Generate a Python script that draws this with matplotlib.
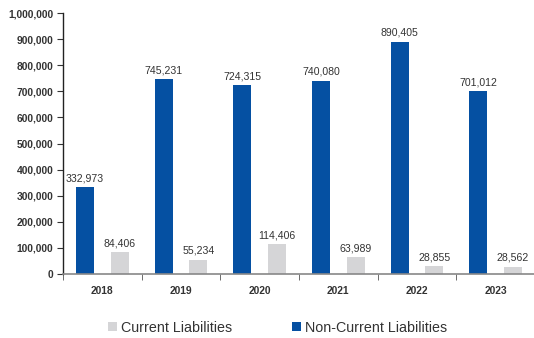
import numpy as np
import matplotlib
matplotlib.use("Agg")
import matplotlib.pyplot as plt
from matplotlib.ticker import FuncFormatter

# liabilities by year
years = ["2018", "2019", "2020", "2021", "2022", "2023"]
current = [84406, 55234, 114406, 63989, 28855, 28562]
non_current = [332973, 745231, 724315, 740080, 890405, 701012]

BLUE = "#0550a2"
GREY = "#d5d5d7"

plt.rcParams['font.family'] = ['Liberation Sans', 'DejaVu Sans']

fig = plt.figure(figsize=(5.34, 3.38), dpi=100)
ax = fig.add_axes([63 / 534, 1 - 274 / 338, 472 / 534, 261 / 338])

x = np.arange(len(years))
w = 0.23
off = 0.22

ax.bar(x - off, non_current, w, color=BLUE, label="Non-Current Liabilities", zorder=2)
ax.bar(x + off, current, w, color=GREY, label="Current Liabilities", zorder=2)

for i in range(len(years)):
    ax.text(x[i] - off, non_current[i] + 15000, f"{non_current[i]:,}",
            ha="center", va="bottom", fontsize=7.6, color="#333333")
    ax.text(x[i] + off, current[i] + 15000, f"{current[i]:,}",
            ha="center", va="bottom", fontsize=7.6, color="#333333")

ax.set_xlim(-0.5, len(years) - 0.5)
ax.set_ylim(0, 1000000)
ax.set_yticks(np.arange(0, 1000001, 100000))
ax.yaxis.set_major_formatter(FuncFormatter(lambda v, p: f"{int(v):,}"))

ax.set_xticks(x)
ax.set_xticklabels(years)
ax.set_xticks(np.arange(-0.5, len(years), 1.0), minor=True)
ax.tick_params(axis="x", which="major", length=0, pad=9)
ax.tick_params(axis="x", which="minor", length=4, color="#555555", direction="out")
ax.tick_params(axis="y", length=4, color="#333333", pad=3)

for lab in ax.get_xticklabels() + ax.get_yticklabels():
    lab.set_fontweight("bold")
    lab.set_fontsize(7.4)
    lab.set_color("#333333")

for s in ["top", "right"]:
    ax.spines[s].set_visible(False)
ax.spines["left"].set_color("#222222")
ax.spines["left"].set_linewidth(1.0)
ax.spines["bottom"].set_color("#888888")
ax.spines["bottom"].set_linewidth(1.2)

handles, labels = ax.get_legend_handles_labels()
fig.legend(handles[::-1], labels[::-1], loc="center", bbox_to_anchor=(0.52, 1 - 328 / 338),
           ncol=2, frameon=False, fontsize=10.3, handlelength=0.6, handleheight=0.6,
           handletextpad=0.3, columnspacing=4.2, labelcolor="#333333")

fig.savefig("out.png", dpi=100)
